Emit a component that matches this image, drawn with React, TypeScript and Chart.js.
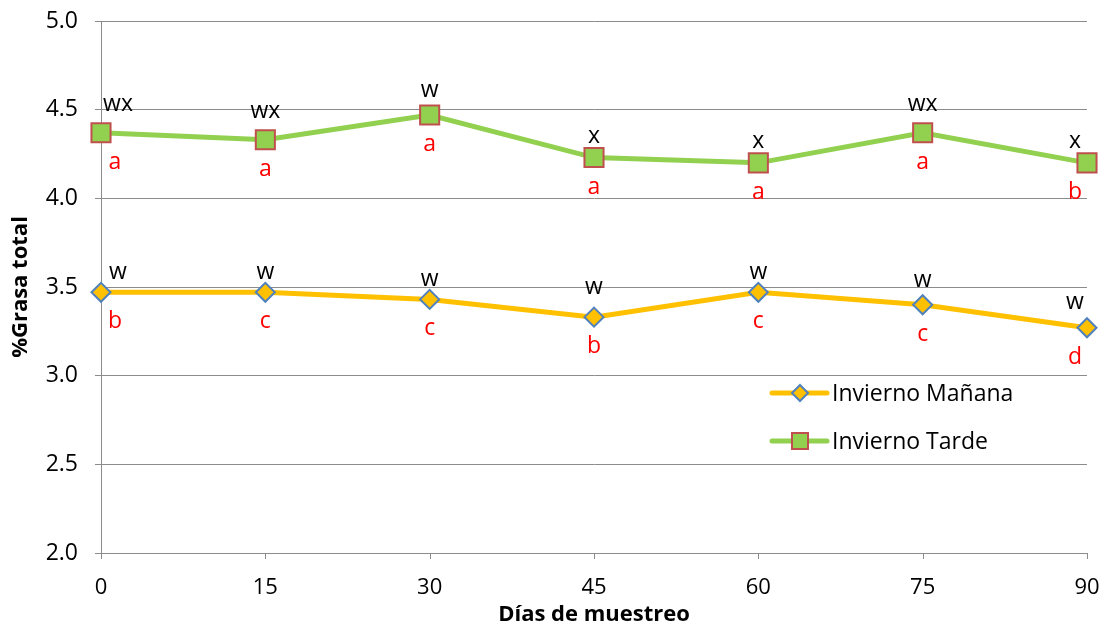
import React, { useEffect, useRef } from "react";
import { Chart, registerables } from "chart.js";

Chart.register(...registerables);

const dias = [0, 15, 30, 45, 60, 75, 90];
const yTicks = [2.0, 2.5, 3.0, 3.5, 4.0, 4.5, 5.0];
const mananaValues = [3.47, 3.47, 3.43, 3.33, 3.47, 3.4, 3.27];
const tardeValues = [4.37, 4.33, 4.47, 4.23, 4.2, 4.37, 4.2];
const mananaTop = ["w", "w", "w", "w", "w", "w", "w"];
const mananaBottom = ["b", "c", "c", "b", "c", "c", "d"];
const tardeTop = ["wx", "wx", "w", "x", "x", "wx", "x"];
const tardeBottom = ["a", "a", "a", "a", "a", "a", "b"];
const seriesNames = ["Invierno Mañana", "Invierno Tarde"];

const FONT = "'Open Sans', 'DejaVu Sans', sans-serif";
const GRID = "#8c8c8c";
const YELLOW = "#FFC000";
const GREEN = "#92D050";
const BLUE_EDGE = "#4F81BD";
const RED_EDGE = "#C0504D";

// per-point vertical nudge (px) for the black letters above the points
const mananaTopNudge = [-13, -13, -13, -23, -13, -18, -19];
const tardeTopNudge = [-22, -22, -18, -15, -15, -22, -15];

const xTickMarks = {
  id: "xTickMarks",
  afterDraw(chart: any) {
    const ctx = chart.ctx;
    const xs = chart.scales.x;
    const yb = chart.chartArea.bottom;
    ctx.save();
    ctx.strokeStyle = GRID;
    ctx.lineWidth = 1;
    dias.forEach((d) => {
      const px = Math.round(xs.getPixelForValue(d)) + 0.5;
      ctx.beginPath();
      ctx.moveTo(px, yb);
      ctx.lineTo(px, yb + 6);
      ctx.stroke();
    });
    ctx.restore();
  },
};

const letterPlugin = {
  id: "letters",
  afterDatasetsDraw(chart: any) {
    const ctx = chart.ctx;
    const sets = [
      { top: mananaTop, bottom: mananaBottom, nudge: mananaTopNudge },
      { top: tardeTop, bottom: tardeBottom, nudge: tardeTopNudge },
    ];
    ctx.save();
    ctx.font = `23px ${FONT}`;
    ctx.textAlign = "center";
    ctx.textBaseline = "alphabetic";
    sets.forEach((s, di) => {
      const meta = chart.getDatasetMeta(di);
      meta.data.forEach((pt: any, i: number) => {
        let dx = 0;
        if (i === 0) dx = 17;
        if (i === meta.data.length - 1) dx = -12;
        ctx.fillStyle = "#000000";
        ctx.fillText(s.top[i], pt.x + dx, pt.y + s.nudge[i]);
        ctx.fillStyle = "#FF0000";
        ctx.fillText(s.bottom[i], pt.x + dx - (i === 0 ? 3 : 0), pt.y + 36);
      });
    });
    ctx.restore();
  },
};

const legendPlugin = {
  id: "customLegend",
  afterDraw(chart: any) {
    const ctx = chart.ctx;
    const x0 = 772;
    const rows = [393, 441];
    const styles = [
      { color: YELLOW, fill: YELLOW, edge: BLUE_EDGE, shape: "diamond" },
      { color: GREEN, fill: GREEN, edge: RED_EDGE, shape: "square" },
    ];
    ctx.save();
    rows.forEach((y, i) => {
      const st = styles[i];
      ctx.strokeStyle = st.color;
      ctx.lineWidth = 5;
      ctx.lineCap = "round";
      ctx.beginPath();
      ctx.moveTo(x0, y);
      ctx.lineTo(x0 + 55, y);
      ctx.stroke();
      const cx = x0 + 28;
      ctx.fillStyle = st.fill;
      ctx.strokeStyle = st.edge;
      ctx.lineWidth = 2;
      ctx.beginPath();
      if (st.shape === "diamond") {
        const r = 8;
        ctx.moveTo(cx, y - r);
        ctx.lineTo(cx + r, y);
        ctx.lineTo(cx, y + r);
        ctx.lineTo(cx - r, y);
        ctx.closePath();
      } else {
        ctx.rect(cx - 8, y - 8, 16, 16);
      }
      ctx.fill();
      ctx.stroke();
      ctx.fillStyle = "#000000";
      ctx.font = `23px ${FONT}`;
      ctx.textAlign = "left";
      ctx.textBaseline = "middle";
      ctx.fillText(seriesNames[i], x0 + 60, y + 1);
    });
    ctx.restore();
  },
};

export default function App() {
  const ref = useRef<HTMLCanvasElement | null>(null);

  useEffect(() => {
    document.body.style.margin = "0";
    const canvas = ref.current;
    if (!canvas) return;
    const chart = new Chart(canvas, {
      type: "line",
      data: {
        datasets: [
          {
            label: seriesNames[0],
            data: dias.map((d, i) => ({ x: d, y: mananaValues[i] })),
            borderColor: YELLOW,
            borderWidth: 5,
            backgroundColor: YELLOW,
            pointStyle: "rectRot",
            pointRadius: 9.5,
            pointBackgroundColor: YELLOW,
            pointBorderColor: BLUE_EDGE,
            pointBorderWidth: 2,
            tension: 0,
            clip: false,
          },
          {
            label: seriesNames[1],
            data: dias.map((d, i) => ({ x: d, y: tardeValues[i] })),
            borderColor: GREEN,
            borderWidth: 5,
            backgroundColor: GREEN,
            pointStyle: "rect",
            pointRadius: 13.5,
            pointBackgroundColor: GREEN,
            pointBorderColor: RED_EDGE,
            pointBorderWidth: 2,
            tension: 0,
            clip: false,
          },
        ],
      },
      options: {
        responsive: false,
        animation: false,
        layout: { padding: { top: 21, right: 22, left: 0, bottom: 0 } },
        plugins: {
          legend: { display: false },
          tooltip: { enabled: false },
        },
        scales: {
          x: {
            type: "linear",
            min: 0,
            max: 90,
            afterBuildTicks: (scale: any) => {
              scale.ticks = dias.map((v) => ({ value: v }));
            },
            afterFit: (scale: any) => {
              scale.height = 82;
              scale.paddingLeft = 0;
              scale.paddingRight = 0;
            },
            ticks: {
              color: "#000000",
              font: { family: FONT, size: 22 },
              padding: 14,
              maxRotation: 0,
            },
            grid: {
              display: false,
            },
            border: { display: true, color: GRID, width: 1 },
            title: {
              display: true,
              text: "Días de muestreo",
              color: "#000000",
              font: { family: FONT, size: 22, weight: "bold" },
              padding: { top: 0, bottom: 7 },
            },
          },
          y: {
            min: 2,
            max: 5,
            afterBuildTicks: (scale: any) => {
              scale.ticks = yTicks.map((v) => ({ value: v }));
            },
            afterFit: (scale: any) => {
              scale.width = 101;
              scale.paddingTop = 0;
              scale.paddingBottom = 0;
            },
            ticks: {
              color: "#000000",
              font: { family: FONT, size: 23 },
              padding: 17,
              callback: (v: any) => Number(v).toFixed(1),
            },
            grid: {
              color: GRID,
              tickLength: 6,
              lineWidth: 1,
            },
            border: { color: GRID, width: 1 },
            title: {
              display: true,
              text: "%Grasa total",
              color: "#000000",
              font: { family: FONT, size: 22, weight: "bold" },
              padding: { top: 8, bottom: 0 },
            },
          },
        },
      },
      plugins: [letterPlugin, legendPlugin, xTickMarks],
    });
    return () => chart.destroy();
  }, []);

  return (
    <div style={{ position: "absolute", left: 0, top: 0, width: 1109, height: 635 }}>
      <canvas ref={ref} width={1109} height={635} />
    </div>
  );
}
